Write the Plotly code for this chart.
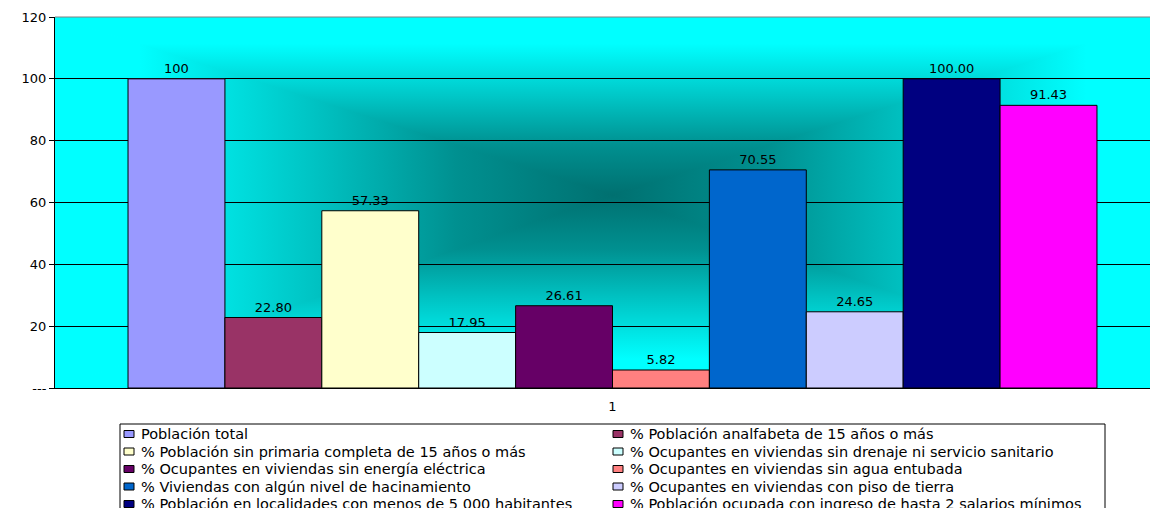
import base64
import plotly.graph_objects as go

categories = ["1"]
series_names = [
    "Población total",
    "% Población analfabeta de 15 años o más",
    "% Población sin primaria completa de 15 años o más",
    "% Ocupantes en viviendas sin drenaje ni servicio sanitario",
    "% Ocupantes en viviendas sin energía eléctrica",
    "% Ocupantes en viviendas sin agua entubada",
    "% Viviendas con algún nivel de hacinamiento",
    "% Ocupantes en viviendas con piso de tierra",
    "% Población en localidades con menos de 5 000 habitantes",
    "% Población ocupada con ingreso de hasta 2 salarios mínimos",
]
series_values = [100, 22.80, 57.33, 17.95, 26.61, 5.82, 70.55, 24.65, 100.00, 91.43]
value_labels = ["100", "22.80", "57.33", "17.95", "26.61", "5.82", "70.55", "24.65", "100.00", "91.43"]
series_colors = ["#9999FF", "#993366", "#FFFFCC", "#CCFFFF", "#660066",
                 "#FF8080", "#0066CC", "#CCCCFF", "#000080", "#FF00FF"]
y_tick_vals = [0, 20, 40, 60, 80, 100, 120]
y_tick_text = ["---", "20", "40", "60", "80", "100", "120"]

FONT = "DejaVu Sans, Liberation Sans, Arial, sans-serif"

# page body has an 8px default margin: figure coordinates = page coordinates - 8
BODY = 8
W, H = 1158 - BODY, 508 - BODY
ml, mr, mt, mb = 55 - BODY, 0, 17 - BODY, 120
plot_w = W - ml - mr
plot_h = H - mt - mb
full_plot_w = 1115  # original plot area extends past the page edge
x_right = -0.5 + plot_w / full_plot_w


def px(xpage):
    return (xpage - BODY - ml) / plot_w


def py(ypage):
    return (H - mb - (ypage - BODY)) / plot_h


# rectangular "from centre" gradient background (cyan edges, dark teal centre)
stops = ('<stop offset="0" stop-color="#00ffff"/>'
         '<stop offset="0.15" stop-color="#00ffff"/>'
         '<stop offset="0.45" stop-color="#00c6c6"/>'
         '<stop offset="0.72" stop-color="#009090"/>'
         '<stop offset="1" stop-color="#007070"/>')
svg = f'''<svg xmlns="http://www.w3.org/2000/svg" viewBox="0 0 100 100" preserveAspectRatio="none" width="1115" height="371">
<defs>
<linearGradient id="t" gradientUnits="userSpaceOnUse" x1="0" y1="0" x2="0" y2="48">{stops}</linearGradient>
<linearGradient id="b" gradientUnits="userSpaceOnUse" x1="0" y1="100" x2="0" y2="48">{stops}</linearGradient>
<linearGradient id="l" gradientUnits="userSpaceOnUse" x1="0" y1="0" x2="50" y2="0">{stops}</linearGradient>
<linearGradient id="r" gradientUnits="userSpaceOnUse" x1="100" y1="0" x2="50" y2="0">{stops}</linearGradient>
</defs>
<polygon points="0,0 100,0 50,48" fill="url(#t)" stroke="url(#t)" stroke-width="0.3"/>
<polygon points="0,100 100,100 50,48" fill="url(#b)" stroke="url(#b)" stroke-width="0.3"/>
<polygon points="0,0 0,100 50,48" fill="url(#l)" stroke="url(#l)" stroke-width="0.3"/>
<polygon points="100,0 100,100 50,48" fill="url(#r)" stroke="url(#r)" stroke-width="0.3"/>
</svg>'''
svg_uri = "data:image/svg+xml;base64," + base64.b64encode(svg.encode()).decode()

fig = go.Figure()
for name, val, lab, col in zip(series_names, series_values, value_labels, series_colors):
    fig.add_trace(go.Bar(
        x=categories, y=[val], name=name, text=[lab],
        textposition="outside", cliponaxis=False,
        textfont=dict(family=FONT, size=13, color="black"),
        marker=dict(color=col, line=dict(color="black", width=1)),
    ))

# legend box drawn as shapes/annotations (two columns, rows 17.5px apart)
shapes = [
    dict(type="line", xref="paper", yref="paper", x0=0, x1=1, y0=1, y1=1,
         line=dict(color="#808080", width=1), layer="above"),
    dict(type="rect", xref="paper", yref="paper", x0=px(120), x1=px(1105),
         y0=py(424), y1=py(540), fillcolor="white",
         line=dict(color="black", width=1), layer="above"),
]
annotations = []
col_x = [124, 613]
row_y0, row_dy = 434, 17.5
for i, (name, col) in enumerate(zip(series_names, series_colors)):
    cx = col_x[i % 2]
    cy = row_y0 + (i // 2) * row_dy
    shapes.append(dict(type="rect", xref="paper", yref="paper",
                       x0=px(cx), x1=px(cx + 10), y0=py(cy + 3.5), y1=py(cy - 3.5),
                       fillcolor=col, line=dict(color="black", width=1), layer="above"))
    annotations.append(dict(text=name, xref="paper", yref="paper",
                            x=px(cx + 15), y=py(cy), xanchor="left", yanchor="middle",
                            showarrow=False,
                            font=dict(family=FONT, size=14.5, color="black")))

fig.update_layout(
    width=W, height=H,
    margin=dict(l=ml, r=mr, t=mt, b=mb, autoexpand=False),
    paper_bgcolor="white", plot_bgcolor="rgba(0,0,0,0)",
    font=dict(family=FONT, size=13, color="black"),
    barmode="group", bargap=0.131, bargroupgap=0,
    showlegend=False,
    xaxis=dict(
        type="category", range=[-0.5, x_right], showgrid=False,
        showline=True, linecolor="black", linewidth=1, ticks="",
        ticklabelstandoff=6,
        tickfont=dict(family=FONT, size=13, color="black"), fixedrange=True,
    ),
    yaxis=dict(
        range=[0, 120], tickvals=y_tick_vals, ticktext=y_tick_text,
        showgrid=True, gridcolor="black", gridwidth=1, zeroline=False,
        showline=True, linecolor="black", linewidth=1,
        ticks="outside", ticklen=5, tickcolor="black",
        tickfont=dict(family=FONT, size=13, color="black"), fixedrange=True,
    ),
    images=[dict(
        source=svg_uri, xref="paper", yref="paper", x=0, y=1,
        sizex=full_plot_w / plot_w, sizey=1, sizing="stretch",
        xanchor="left", yanchor="top", layer="below",
    )],
    shapes=shapes,
    annotations=annotations,
)

fig.write_html("out.html")
